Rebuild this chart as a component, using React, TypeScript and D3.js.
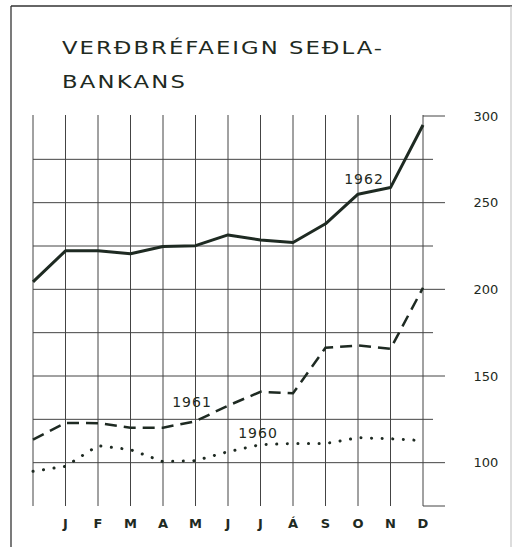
import React from 'react';
import * as d3 from 'd3';

// months: first point is the start value (end of previous year), unlabeled
const monthLabels = ['', 'J', 'F', 'M', 'A', 'M', 'J', 'J', 'Á', 'S', 'O', 'N', 'D'];
const series1962 = [204.3, 222.2, 222.2, 220.5, 224.7, 225.2, 231.4, 228.5, 227, 237.8, 254.9, 258.7, 294.8];
const series1961 = [113.3, 122.9, 122.8, 120.2, 120.2, 123.9, 132.9, 140.9, 140, 166.3, 167.6, 165.7, 200.9];
const series1960 = [95, 97.9, 109.8, 107.5, 100.6, 101.2, 106.3, 110.4, 111, 111, 114.4, 113.8, 112.7];
const yTicks = [100, 150, 200, 250, 300];
const minorTicks = [125, 175, 225, 275];

const W = 512;
const H = 547;
const ink = '#1e2a22';

export default function App() {
  const x = d3.scaleLinear().domain([0, 12]).range([33, 423]);
  const y = d3.scaleLinear().domain([75, 300]).range([506, 116]);

  const line = d3.line<number>()
    .x((_, i) => x(i))
    .y(d => y(d));

  const idx = d3.range(monthLabels.length);
  const sx = 1.3; // wide lettering in title

  return (
    <svg width={W} height={H} style={{ position: 'absolute', left: 0, top: 0, background: '#fff' }}>
      {/* frame */}
      <line x1={11} y1={6} x2={W} y2={6} stroke="#333" strokeWidth={1.3} />
      <line x1={11} y1={6} x2={11} y2={H} stroke="#333" strokeWidth={1.3} />
      <line x1={511} y1={6} x2={511} y2={H} stroke="#bbb" strokeWidth={1} />

      {/* title */}
      <g fill={ink} fontFamily="DejaVu Sans, sans-serif" fontSize={17.5} transform={`translate(62,0) scale(${sx},1)`}>
        <text x={0} y={54} textLength={320 / sx} lengthAdjust="spacing">VERÐBRÉFAEIGN SEÐLA-</text>
        <text x={0} y={88} textLength={123 / sx} lengthAdjust="spacing">BANKANS</text>
      </g>

      {/* vertical grid */}
      {idx.map(i => (
        <line key={'v' + i} x1={x(i)} x2={x(i)} y1={y(300) - 1} y2={y(75)} stroke="#444" strokeWidth={1} />
      ))}
      {/* minor horizontal grid */}
      {minorTicks.map(t => (
        <line key={'m' + t} x1={x(0)} x2={x(12) + 10} y1={y(t)} y2={y(t)} stroke="#444" strokeWidth={1} />
      ))}
      {/* major horizontal grid */}
      {yTicks.map(t => (
        <line key={'g' + t} x1={t === 300 ? x(12) : x(0)} x2={x(12) + 22} y1={y(t)} y2={y(t)} stroke="#444" strokeWidth={1} />
      ))}
      <line x1={x(12)} x2={x(12) + 22} y1={y(75)} y2={y(75)} stroke="#444" strokeWidth={1} />

      {/* y labels */}
      <g fill={ink} fontFamily="DejaVu Sans, sans-serif" fontSize={13} textAnchor="middle">
        {yTicks.map(t => (
          <text key={'yl' + t} x={486} y={y(t)} dy="0.35em">{t}</text>
        ))}
      </g>

      {/* x labels */}
      <g fill={ink} fontFamily="DejaVu Sans, sans-serif" fontSize={13} fontWeight="bold" textAnchor="middle">
        {idx.map(i => (
          <text key={'xl' + i} x={x(i)} y={523} dy="0.35em">{monthLabels[i]}</text>
        ))}
      </g>

      {/* series */}
      <path d={line(series1960) || ''} fill="none" stroke={ink} strokeWidth={3} strokeLinecap="round" strokeDasharray="0.1 10.5" />
      <path d={line(series1961) || ''} fill="none" stroke={ink} strokeWidth={2.5} strokeDasharray="12 7" />
      <path d={line(series1962) || ''} fill="none" stroke={ink} strokeWidth={3} strokeLinejoin="round" />

      {/* series labels */}
      <g fill={ink} fontFamily="DejaVu Sans, sans-serif" fontSize={14} textAnchor="middle">
        <text x={364} y={179} dy="0.35em" letterSpacing={1}>1962</text>
        <text x={192} y={402} dy="0.35em" letterSpacing={1}>1961</text>
        <text x={258} y={433} dy="0.35em" letterSpacing={1}>1960</text>
      </g>
    </svg>
  );
}
